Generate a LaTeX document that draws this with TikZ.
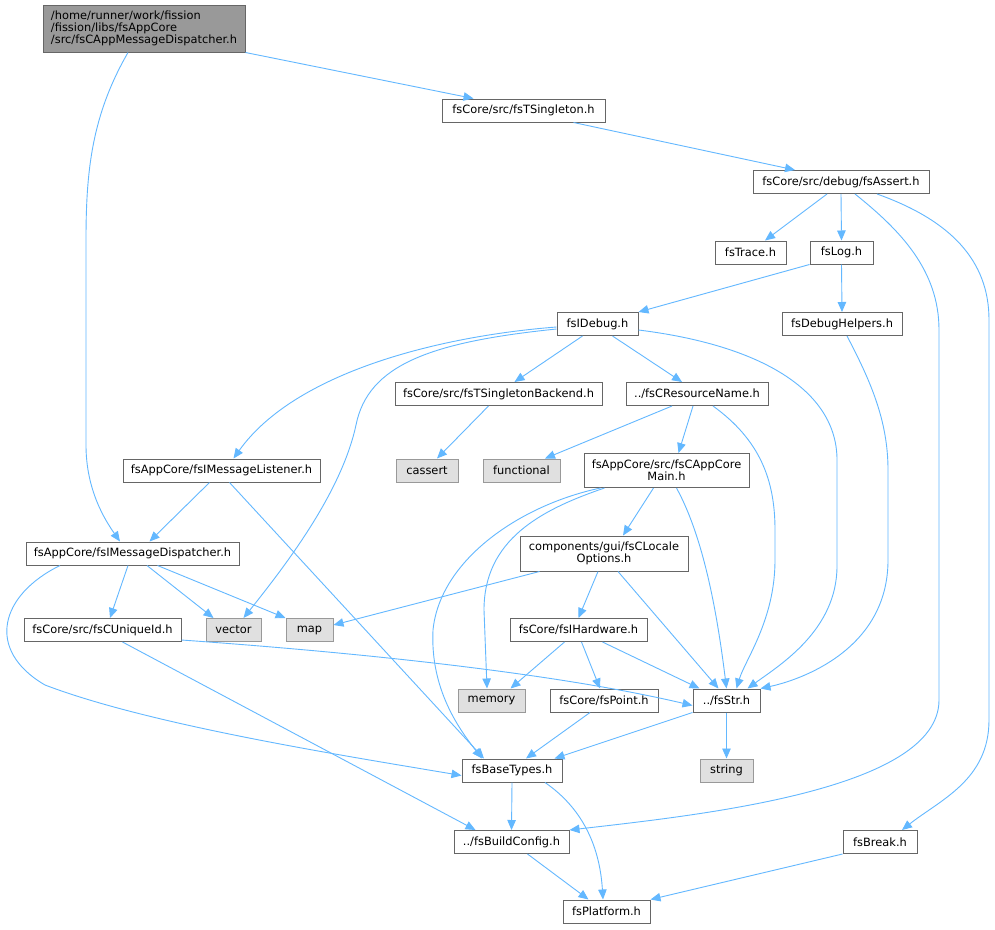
\documentclass[tikz,border=0pt]{standalone}
\usepackage{fontspec}
\setmainfont{DejaVu Sans}
\usetikzlibrary{arrows.meta}
\definecolor{edgeblue}{HTML}{63B8FF}
\definecolor{bordgrey}{HTML}{666666}
\definecolor{extborder}{HTML}{999999}
\definecolor{extfill}{HTML}{E0E0E0}
\definecolor{mainfill}{HTML}{999999}
\begin{document}
\begin{tikzpicture}[x=1pt,y=-1pt,
  nbox/.style={draw=bordgrey, fill=white, line width=1pt, minimum height=23pt, inner sep=0pt, font=\fontsize{11.4}{12}\selectfont, text=black},
  xbox/.style={nbox, draw=extborder, fill=extfill},
  lnk/.style={draw=edgeblue, line width=0.9pt, -{Triangle[length=10pt,width=8.5pt]}}
]
\fill[white] (0,0) rectangle (995,929);
\useasboundingbox (0,0) rectangle (995,929);

% nodes
\node[nbox, fill=mainfill, minimum width=202pt, minimum height=47pt, align=left] (main) at (144,28.5) {/home/runner/work/fission\\/fission/libs/fsAppCore\\/src/fsCAppMessageDispatcher.h};
\node[nbox, minimum width=163pt] (tsing) at (523.5,110.5) {fsCore/src/fsTSingleton.h};
\node[nbox, minimum width=176pt] (assert) at (841,182) {fsCore/src/debug/fsAssert.h};
\node[nbox, minimum width=71pt] (trace) at (750.5,252.5) {fsTrace.h};
\node[nbox, minimum width=63pt] (log) at (841.5,252.5) {fsLog.h};
\node[nbox, minimum width=81pt] (idebug) at (597.5,324) {fsIDebug.h};
\node[nbox, minimum width=120pt] (dbgh) at (842,324) {fsDebugHelpers.h};
\node[nbox, minimum width=207pt] (tsb) at (498.5,394) {fsCore/src/fsTSingletonBackend.h};
\node[nbox, minimum width=142pt] (crn) at (697,394) {../fsCResourceName.h};
\node[nbox, minimum width=197pt] (iml) at (221.5,470.5) {fsAppCore/fsIMessageListener.h};
\node[xbox, minimum width=62pt] (cassert) at (427,470.5) {cassert};
\node[xbox, minimum width=77pt] (functional) at (521.5,470.5) {functional};
\node[nbox, minimum width=165pt, minimum height=34pt, align=center] (cam) at (666.5,470.5) {fsAppCore/src/fsCAppCore\\Main.h};
\node[nbox, minimum width=213pt] (imd) at (132.5,553.5) {fsAppCore/fsIMessageDispatcher.h};
\node[nbox, minimum width=168pt, minimum height=35pt, align=center] (clo) at (604,553.5) {components/gui/fsCLocale\\Options.h};
\node[nbox, minimum width=157pt] (cuid) at (102.5,630) {fsCore/src/fsCUniqueId.h};
\node[xbox, minimum width=55pt] (vector) at (233.5,630) {vector};
\node[xbox, minimum width=47pt] (map) at (309.5,630) {map};
\node[nbox, minimum width=137pt] (ihw) at (578.5,630) {fsCore/fsIHardware.h};
\node[xbox, minimum width=67pt] (memory) at (491.5,700.5) {memory};
\node[nbox, minimum width=108pt] (point) at (604,700.5) {fsCore/fsPoint.h};
\node[nbox, minimum width=67pt] (str) at (726.5,700.5) {../fsStr.h};
\node[nbox, minimum width=100pt] (base) at (512,770.5) {fsBaseTypes.h};
\node[xbox, minimum width=53pt] (string) at (726.5,770.5) {string};
\node[nbox, minimum width=115pt] (build) at (511.5,842) {../fsBuildConfig.h};
\node[nbox, minimum width=74pt] (brk) at (880,842) {fsBreak.h};
\node[nbox, minimum width=87pt] (plat) at (606.5,911.5) {fsPlatform.h};

% edges
\draw[lnk] ([xshift=-16pt]main.south) .. controls (92,115) and (86,170) .. (86,240) -- (86,445) .. controls (86,490) and (105,520) .. ([xshift=-12.5pt]imd.north);
\draw[lnk] (main.south east) -- ([xshift=-50pt]tsing.north);
\draw[lnk] ([xshift=50pt]tsing.south) -- ([xshift=-46pt]assert.north);
\draw[lnk] ([xshift=-14pt]assert.south) -- ([xshift=14.5pt]trace.north);
\draw[lnk] (assert.south) -- (log.north);
\draw[lnk] ([xshift=14pt]assert.south) .. controls (900,230) and (939,270) .. (939,330) -- (939,700) .. controls (939,790) and (700,815) .. (build.north east);
\draw[lnk] ([xshift=36pt]assert.south) .. controls (950,220) and (989,260) .. (989,320) -- (989,720) .. controls (989,780) and (940,800) .. ([xshift=22pt]brk.north);
\draw[lnk] (log.south west) -- (idebug.north east);
\draw[lnk] (log.south) -- (dbgh.north);
\draw[lnk] ([xshift=5pt]dbgh.south) .. controls (870,380) and (888,420) .. (888,470) -- (888,560) .. controls (888,650) and (800,680) .. (str.north east);
\draw[lnk] ([yshift=-3pt]idebug.west) .. controls (440,336) and (295,372) .. ([xshift=12pt]iml.north);
\draw[lnk] ([yshift=-5pt]idebug.west) .. controls (430,342) and (368,365) .. (356,425) .. controls (342,490) and (290,560) .. ([xshift=10pt]vector.north);
\draw[lnk] ([xshift=-15pt]idebug.south) -- ([xshift=16pt]tsb.north);
\draw[lnk] ([xshift=15pt]idebug.south) -- ([xshift=-15pt]crn.north);
\draw[lnk] ([yshift=-6pt]idebug.east) .. controls (760,345) and (837,390) .. (837,460) -- (837,566) .. controls (837,630) and (780,665) .. ([xshift=21pt]str.north);
\draw[lnk] ([xshift=-10pt]tsb.south) -- ([xshift=10pt]cassert.north);
\draw[lnk] ([xshift=-25pt]crn.south) -- ([xshift=23.5pt]functional.north);
\draw[lnk] ([xshift=-4pt]crn.south) -- ([xshift=12pt]cam.north);
\draw[lnk] ([xshift=16pt]crn.south) .. controls (760,440) and (775,480) .. (775,530) -- (775,560) .. controls (775,620) and (745,660) .. ([xshift=10pt]str.north);
\draw[lnk] ([xshift=-12pt]iml.south) -- ([xshift=17pt]imd.north);
\draw[lnk] ([xshift=8pt]iml.south) -- ([xshift=-28pt]base.north);
\draw[lnk] ([xshift=-66pt]cam.south) .. controls (520,505) and (440,560) .. (433,630) .. controls (430,690) and (460,730) .. ([xshift=-30pt]base.north);
\draw[lnk] ([xshift=-62pt]cam.south) .. controls (540,510) and (484,540) .. (484,610) -- ([xshift=-4.5pt]memory.north);
\draw[lnk] ([xshift=-13pt]cam.south) -- ([xshift=19pt]clo.north);
\draw[lnk] ([xshift=10pt]cam.south) .. controls (705,540) and (718,620) .. (str.north);
\draw[lnk] ([xshift=-4.5pt]imd.south) -- ([xshift=7.5pt]cuid.north);
\draw[lnk] ([xshift=14.5pt]imd.south) -- ([xshift=-20pt]vector.north);
\draw[lnk] ([xshift=25pt]imd.south) -- (map.north west);
\draw[lnk] ([xshift=-72.5pt]imd.south) .. controls (0,595) and (-15,650) .. (45,685) .. controls (150,725) and (340,755) .. ([yshift=-5pt]base.west);
\draw[lnk] ([xshift=20pt]clo.south west) -- ([yshift=5pt]map.east);
\draw[lnk] ([xshift=-6pt]clo.south) -- (ihw.north);
\draw[lnk] ([xshift=14pt]clo.south) -- ([xshift=-8pt]str.north);
\draw[lnk] ([yshift=2pt]cuid.south east) .. controls (350,652) and (550,672) .. ([yshift=-5pt]str.west);
\draw[lnk] ([xshift=20pt]cuid.south) -- ([xshift=22pt]build.north west);
\draw[lnk] ([xshift=-14pt]ihw.south) -- ([xshift=19pt]memory.north);
\draw[lnk] ([xshift=3pt]ihw.south) -- ([xshift=-4pt]point.north);
\draw[lnk] ([xshift=24pt]ihw.south) -- ([xshift=-27pt]str.north);
\draw[lnk] ([xshift=-14pt]point.south) -- ([xshift=14pt]base.north);
\draw[lnk] (str.south west) -- ([xshift=-8pt]base.north east);
\draw[lnk] (str.south) -- (string.north);
\draw[lnk] (base.south) -- (build.north);
\draw[lnk] ([xshift=33pt]base.south) .. controls (585,810) and (600,850) .. ([xshift=-3.5pt]plat.north);
\draw[lnk] ([xshift=16pt]build.south) -- ([xshift=-18pt]plat.north);
\draw[lnk] (brk.south west) -- (plat.north east);
\end{tikzpicture}
\end{document}
